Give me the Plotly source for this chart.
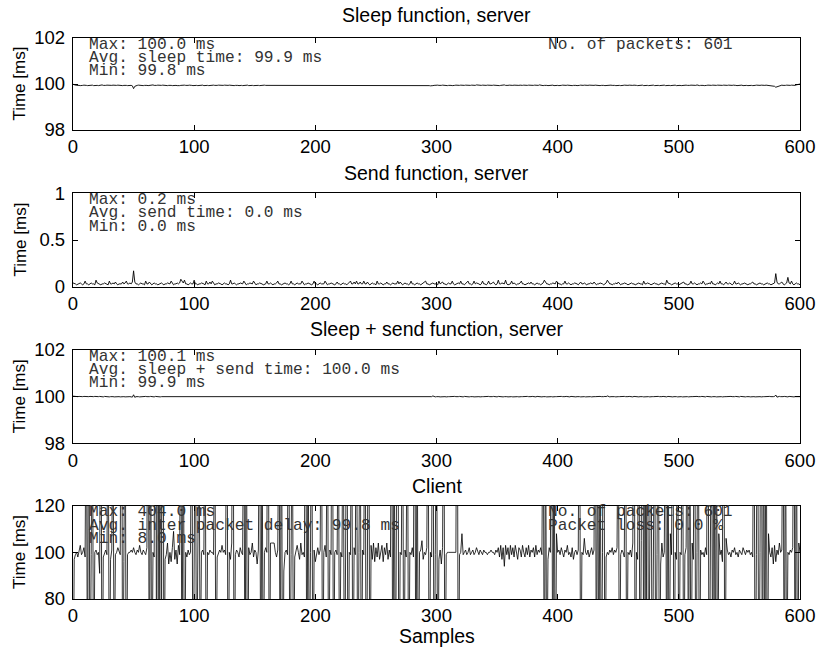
import plotly.graph_objects as go

# ---------------- data (601 samples each) ----------------
samples = list(range(601))

sleep_ms = [
    99.99, 99.96, 99.95, 99.94, 99.95, 99.94, 99.93, 99.95, 99.94, 99.95, 99.96, 99.94, 99.93, 99.94, 99.95, 99.94, 99.95, 99.93, 99.94, 99.95,
    99.94, 99.93, 99.95, 99.94, 99.96, 99.94, 99.93, 99.94, 99.95, 99.94, 99.93, 99.95, 99.94, 99.95, 99.94, 99.93, 99.94, 99.95, 99.94, 99.96,
    99.94, 99.93, 99.94, 99.95, 99.94, 99.93, 99.94, 99.95, 99.94, 99.92, 99.80, 99.90, 99.93, 99.94, 99.95, 99.94, 99.95, 99.94, 99.93, 99.94,
    99.95, 99.94, 99.93, 99.94, 99.95, 99.94, 99.96, 99.94, 99.93, 99.94, 99.95, 99.94, 99.93, 99.94, 99.95, 99.94, 99.94, 99.95, 99.93, 99.94,
    99.95, 99.94, 99.93, 99.94, 99.95, 99.94, 99.93, 99.92, 99.93, 99.94, 99.95, 99.94, 99.95, 99.94, 99.93, 99.94, 99.95, 99.96, 99.94, 99.93,
    99.94, 99.95, 99.94, 99.93, 99.94, 99.95, 99.94, 99.95, 99.93, 99.94, 99.95, 99.94, 99.93, 99.94, 99.96, 99.94, 99.95, 99.94, 99.93, 99.94,
    99.95, 99.94, 99.95, 99.93, 99.94, 99.95, 99.94, 99.93, 99.94, 99.95, 99.94, 99.96, 99.94, 99.93, 99.94, 99.95, 99.94, 99.93, 99.95, 99.94,
    99.93, 99.94, 99.95, 99.94, 99.95, 99.93, 99.94, 99.95, 99.94, 99.93, 99.94, 99.95, 99.96, 99.94, 99.93, 99.94, 99.95, 99.94, 99.95, 99.94,
    99.94, 99.93, 99.95, 99.94, 99.93, 99.94, 99.95, 99.94, 99.96, 99.95, 99.94, 99.93, 99.94, 99.95, 99.94, 99.93, 99.94, 99.95, 99.94, 99.95,
    99.93, 99.94, 99.95, 99.94, 99.93, 99.95, 99.94, 99.95, 99.94, 99.93, 99.94, 99.96, 99.94, 99.95, 99.93, 99.94, 99.95, 99.94, 99.93, 99.94,
    99.95, 99.94, 99.93, 99.94, 99.95, 99.94, 99.95, 99.93, 99.94, 99.95, 99.94, 99.93, 99.95, 99.94, 99.96, 99.94, 99.93, 99.94, 99.95, 99.94,
    99.94, 99.95, 99.93, 99.94, 99.95, 99.94, 99.93, 99.94, 99.95, 99.96, 99.94, 99.93, 99.94, 99.95, 99.94, 99.95, 99.93, 99.94, 99.95, 99.94,
    99.93, 99.94, 99.95, 99.94, 99.95, 99.93, 99.94, 99.95, 99.94, 99.93, 99.94, 99.95, 99.94, 99.96, 99.94, 99.93, 99.94, 99.95, 99.94, 99.93,
    99.94, 99.95, 99.94, 99.93, 99.95, 99.94, 99.95, 99.94, 99.93, 99.94, 99.95, 99.94, 99.93, 99.94, 99.95, 99.96, 99.94, 99.93, 99.94, 99.95,
    99.94, 99.93, 99.94, 99.95, 99.94, 99.95, 99.93, 99.94, 99.95, 99.94, 99.93, 99.94, 99.95, 99.94, 99.93, 99.92, 99.91, 99.93, 99.94, 99.95,
    99.94, 99.95, 99.94, 99.93, 99.94, 99.95, 99.94, 99.96, 99.94, 99.93, 99.94, 99.95, 99.94, 99.93, 99.95, 99.94, 99.95, 99.94, 99.93, 99.94,
    99.95, 99.94, 99.93, 99.94, 99.95, 99.94, 99.95, 99.93, 99.94, 99.95, 99.94, 99.93, 99.94, 99.96, 99.95, 99.94, 99.93, 99.94, 99.95, 99.94,
    99.93, 99.94, 99.95, 99.94, 99.95, 99.93, 99.94, 99.95, 99.94, 99.93, 99.95, 99.94, 99.93, 99.94, 99.95, 99.94, 99.96, 99.94, 99.93, 99.94,
    99.95, 99.94, 99.93, 99.94, 99.95, 99.94, 99.93, 99.95, 99.94, 99.95, 99.93, 99.94, 99.95, 99.94, 99.93, 99.94, 99.95, 99.94, 99.95, 99.93,
    99.94, 99.95, 99.94, 99.93, 99.94, 99.96, 99.94, 99.95, 99.93, 99.94, 99.95, 99.94, 99.93, 99.94, 99.95, 99.94, 99.95, 99.93, 99.94, 99.95,
    99.94, 99.93, 99.95, 99.94, 99.95, 99.94, 99.93, 99.94, 99.95, 99.94, 99.96, 99.94, 99.93, 99.94, 99.95, 99.94, 99.93, 99.95, 99.94, 99.95,
    99.93, 99.94, 99.95, 99.94, 99.93, 99.94, 99.95, 99.94, 99.95, 99.93, 99.94, 99.95, 99.94, 99.96, 99.94, 99.93, 99.94, 99.95, 99.94, 99.93,
    99.94, 99.95, 99.93, 99.94, 99.95, 99.94, 99.95, 99.94, 99.93, 99.94, 99.95, 99.94, 99.93, 99.95, 99.94, 99.95, 99.94, 99.93, 99.94, 99.95,
    99.94, 99.93, 99.94, 99.95, 99.96, 99.94, 99.93, 99.94, 99.95, 99.94, 99.95, 99.93, 99.94, 99.95, 99.94, 99.93, 99.94, 99.95, 99.94, 99.95,
    99.93, 99.94, 99.95, 99.94, 99.93, 99.94, 99.95, 99.94, 99.95, 99.93, 99.94, 99.96, 99.94, 99.93, 99.94, 99.95, 99.94, 99.95, 99.93, 99.94,
    99.95, 99.94, 99.93, 99.94, 99.95, 99.94, 99.95, 99.94, 99.93, 99.94, 99.95, 99.94, 99.93, 99.95, 99.94, 99.96, 99.94, 99.93, 99.94, 99.95,
    99.94, 99.93, 99.95, 99.94, 99.95, 99.94, 99.93, 99.94, 99.95, 99.94, 99.93, 99.94, 99.95, 99.94, 99.95, 99.93, 99.94, 99.95, 99.94, 99.93,
    99.94, 99.95, 99.94, 99.93, 99.94, 99.95, 99.96, 99.94, 99.93, 99.94, 99.95, 99.94, 99.95, 99.93, 99.94, 99.95, 99.94, 99.93, 99.94, 99.95,
    99.94, 99.93, 99.95, 99.94, 99.95, 99.94, 99.93, 99.94, 99.95, 99.94, 99.93, 99.94, 99.95, 99.94, 99.95, 99.93, 99.94, 99.93, 99.92, 99.90,
    99.86, 99.88, 99.91, 99.93, 99.94, 99.95, 99.94, 99.93, 99.94, 99.95, 99.94, 99.93, 99.94, 99.95, 99.94, 99.95, 99.94, 99.96, 99.97, 99.98,
    100.00,
]

send_ms = [
    0.04, 0.03, 0.03, 0.02, 0.03, 0.03, 0.04, 0.03, 0.02, 0.03, 0.06, 0.03, 0.03, 0.02, 0.03, 0.04, 0.03, 0.03, 0.02, 0.07,
    0.04, 0.03, 0.03, 0.02, 0.03, 0.03, 0.04, 0.03, 0.03, 0.02, 0.06, 0.03, 0.03, 0.04, 0.03, 0.05, 0.03, 0.02, 0.03, 0.03,
    0.03, 0.05, 0.03, 0.04, 0.06, 0.03, 0.03, 0.04, 0.03, 0.05, 0.17, 0.05, 0.03, 0.03, 0.02, 0.03, 0.04, 0.03, 0.03, 0.02,
    0.06, 0.03, 0.03, 0.05, 0.03, 0.02, 0.03, 0.04, 0.03, 0.03, 0.02, 0.03, 0.03, 0.04, 0.03, 0.02, 0.03, 0.03, 0.04, 0.03,
    0.03, 0.06, 0.03, 0.02, 0.03, 0.03, 0.04, 0.03, 0.04, 0.08, 0.06, 0.04, 0.07, 0.03, 0.03, 0.02, 0.03, 0.04, 0.03, 0.03,
    0.07, 0.03, 0.03, 0.02, 0.03, 0.03, 0.04, 0.03, 0.03, 0.02, 0.06, 0.03, 0.03, 0.05, 0.03, 0.06, 0.03, 0.02, 0.03, 0.03,
    0.04, 0.03, 0.03, 0.02, 0.03, 0.04, 0.03, 0.03, 0.02, 0.03, 0.07, 0.03, 0.03, 0.04, 0.03, 0.02, 0.03, 0.03, 0.04, 0.03,
    0.03, 0.06, 0.03, 0.02, 0.03, 0.03, 0.04, 0.03, 0.03, 0.06, 0.03, 0.02, 0.03, 0.03, 0.04, 0.03, 0.03, 0.02, 0.03, 0.03,
    0.06, 0.03, 0.03, 0.04, 0.03, 0.02, 0.03, 0.03, 0.04, 0.06, 0.03, 0.03, 0.02, 0.03, 0.03, 0.04, 0.03, 0.03, 0.02, 0.03,
    0.06, 0.03, 0.03, 0.02, 0.03, 0.04, 0.03, 0.03, 0.03, 0.06, 0.03, 0.02, 0.03, 0.03, 0.04, 0.03, 0.03, 0.02, 0.03, 0.06,
    0.03, 0.03, 0.02, 0.03, 0.04, 0.03, 0.03, 0.03, 0.06, 0.03, 0.02, 0.03, 0.03, 0.04, 0.03, 0.03, 0.02, 0.03, 0.05, 0.03,
    0.03, 0.02, 0.03, 0.04, 0.03, 0.03, 0.02, 0.03, 0.04, 0.06, 0.03, 0.03, 0.05, 0.03, 0.06, 0.03, 0.03, 0.05, 0.03, 0.03,
    0.06, 0.03, 0.03, 0.05, 0.03, 0.02, 0.03, 0.04, 0.03, 0.03, 0.02, 0.06, 0.03, 0.03, 0.04, 0.03, 0.02, 0.03, 0.03, 0.05,
    0.03, 0.03, 0.02, 0.03, 0.04, 0.03, 0.03, 0.03, 0.06, 0.03, 0.05, 0.03, 0.02, 0.03, 0.04, 0.03, 0.03, 0.02, 0.03, 0.06,
    0.03, 0.03, 0.02, 0.03, 0.04, 0.03, 0.03, 0.02, 0.03, 0.03, 0.04, 0.06, 0.03, 0.03, 0.02, 0.03, 0.03, 0.04, 0.03, 0.03,
    0.03, 0.02, 0.06, 0.03, 0.04, 0.05, 0.03, 0.03, 0.02, 0.03, 0.04, 0.03, 0.03, 0.06, 0.03, 0.02, 0.03, 0.03, 0.04, 0.03,
    0.06, 0.03, 0.03, 0.02, 0.03, 0.04, 0.06, 0.03, 0.03, 0.02, 0.03, 0.06, 0.03, 0.04, 0.03, 0.03, 0.02, 0.03, 0.06, 0.03,
    0.03, 0.02, 0.03, 0.06, 0.03, 0.03, 0.04, 0.05, 0.03, 0.02, 0.03, 0.07, 0.03, 0.03, 0.04, 0.03, 0.03, 0.07, 0.03, 0.02,
    0.03, 0.03, 0.06, 0.03, 0.04, 0.03, 0.02, 0.03, 0.03, 0.04, 0.06, 0.03, 0.03, 0.02, 0.03, 0.03, 0.04, 0.03, 0.05, 0.03,
    0.03, 0.02, 0.03, 0.04, 0.03, 0.03, 0.02, 0.03, 0.04, 0.07, 0.04, 0.03, 0.03, 0.02, 0.03, 0.03, 0.04, 0.03, 0.03, 0.06,
    0.04, 0.03, 0.03, 0.02, 0.03, 0.03, 0.06, 0.03, 0.03, 0.04, 0.03, 0.02, 0.03, 0.03, 0.04, 0.03, 0.03, 0.02, 0.03, 0.05,
    0.03, 0.03, 0.04, 0.03, 0.02, 0.03, 0.03, 0.04, 0.03, 0.03, 0.05, 0.03, 0.02, 0.03, 0.03, 0.04, 0.03, 0.03, 0.02, 0.03,
    0.04, 0.07, 0.04, 0.03, 0.03, 0.02, 0.03, 0.03, 0.04, 0.03, 0.05, 0.03, 0.02, 0.03, 0.03, 0.04, 0.03, 0.03, 0.02, 0.03,
    0.03, 0.04, 0.03, 0.03, 0.02, 0.03, 0.03, 0.04, 0.03, 0.03, 0.02, 0.06, 0.03, 0.03, 0.04, 0.03, 0.03, 0.02, 0.03, 0.03,
    0.04, 0.03, 0.03, 0.02, 0.03, 0.03, 0.04, 0.03, 0.03, 0.02, 0.07, 0.04, 0.03, 0.03, 0.02, 0.03, 0.03, 0.04, 0.03, 0.03,
    0.02, 0.03, 0.03, 0.04, 0.05, 0.03, 0.03, 0.02, 0.03, 0.03, 0.06, 0.03, 0.03, 0.04, 0.03, 0.02, 0.03, 0.03, 0.04, 0.03,
    0.06, 0.03, 0.02, 0.03, 0.03, 0.04, 0.03, 0.06, 0.03, 0.03, 0.02, 0.03, 0.04, 0.03, 0.06, 0.03, 0.03, 0.02, 0.03, 0.05,
    0.03, 0.03, 0.04, 0.03, 0.02, 0.03, 0.06, 0.03, 0.03, 0.04, 0.03, 0.02, 0.03, 0.03, 0.04, 0.03, 0.03, 0.02, 0.03, 0.03,
    0.04, 0.05, 0.03, 0.03, 0.02, 0.03, 0.03, 0.04, 0.03, 0.03, 0.02, 0.03, 0.03, 0.04, 0.03, 0.03, 0.02, 0.03, 0.03, 0.04,
    0.14, 0.05, 0.03, 0.03, 0.04, 0.05, 0.03, 0.02, 0.03, 0.04, 0.10, 0.04, 0.03, 0.06, 0.03, 0.02, 0.03, 0.04, 0.03, 0.03,
    0.02,
]

sleep_send_ms = [
    100.02, 100.01, 100.00, 99.99, 100.00, 100.01, 100.00, 99.99, 100.00, 100.01, 100.00, 100.01, 99.99, 100.00, 100.01, 100.00, 99.99, 100.00, 100.01, 100.00,
    99.99, 100.00, 100.01, 100.00, 100.00, 99.99, 100.01, 100.00, 100.00, 100.01, 99.99, 100.00, 100.01, 100.00, 99.99, 100.00, 100.00, 100.01, 100.00, 99.99,
    100.00, 100.01, 100.00, 99.99, 100.00, 100.01, 100.00, 100.00, 99.99, 99.98, 100.08, 99.97, 100.00, 100.01, 100.00, 99.99, 100.00, 100.01, 100.00, 100.00,
    100.01, 100.00, 99.99, 100.00, 100.01, 100.00, 100.00, 99.99, 100.01, 100.00, 100.00, 100.01, 99.99, 100.00, 100.00, 100.01, 100.00, 99.99, 100.00, 100.01,
    100.00, 99.99, 100.00, 100.01, 100.00, 100.00, 99.99, 100.01, 100.00, 100.01, 100.02, 100.00, 99.99, 100.00, 100.01, 100.00, 99.99, 100.00, 100.01, 100.00,
    100.01, 100.00, 99.99, 100.00, 100.01, 100.00, 100.00, 100.01, 99.99, 100.00, 100.01, 100.00, 99.99, 100.00, 100.01, 100.00, 100.00, 99.99, 100.01, 100.00,
    99.99, 100.00, 100.01, 100.00, 99.99, 100.00, 100.01, 100.00, 100.00, 99.99, 100.01, 100.00, 100.00, 100.01, 99.99, 100.00, 100.01, 100.00, 99.99, 100.00,
    100.00, 100.01, 100.00, 99.99, 100.00, 100.01, 100.00, 99.99, 100.01, 100.00, 100.00, 99.99, 100.01, 100.00, 100.00, 100.01, 99.99, 100.00, 100.01, 100.00,
    100.01, 100.00, 99.99, 100.00, 100.01, 100.00, 100.00, 99.99, 100.00, 100.01, 100.00, 100.01, 99.99, 100.00, 100.00, 100.01, 100.00, 99.99, 100.00, 100.01,
    100.00, 99.99, 100.01, 100.00, 100.00, 100.01, 99.99, 100.00, 100.01, 100.00, 99.99, 100.00, 100.01, 100.00, 100.00, 99.99, 100.01, 100.00, 100.00, 100.01,
    99.99, 100.00, 100.01, 100.00, 99.99, 100.00, 100.01, 100.00, 100.00, 100.01, 99.99, 100.00, 100.00, 100.01, 100.00, 99.99, 100.00, 100.01, 100.00, 100.00,
    100.01, 100.00, 99.99, 100.00, 100.01, 100.00, 99.99, 100.00, 100.01, 100.00, 100.00, 100.01, 99.99, 100.00, 100.01, 100.00, 99.99, 100.00, 100.01, 100.00,
    100.00, 99.99, 100.01, 100.00, 100.00, 100.01, 99.99, 100.00, 100.01, 100.00, 99.99, 100.00, 100.01, 100.00, 100.00, 99.99, 100.01, 100.00, 99.99, 100.01,
    100.00, 100.00, 99.99, 100.01, 100.00, 100.00, 100.01, 99.99, 100.00, 100.01, 100.00, 99.99, 100.00, 100.01, 100.00, 100.00, 99.99, 100.01, 100.00, 100.00,
    100.01, 99.99, 100.00, 100.01, 100.00, 99.99, 100.00, 100.01, 100.00, 100.00, 99.99, 100.01, 100.00, 100.00, 100.01, 99.99, 100.00, 100.03, 100.00, 99.99,
    100.00, 100.01, 100.00, 99.99, 100.00, 100.01, 100.00, 100.00, 99.99, 100.01, 100.00, 100.00, 100.01, 99.99, 100.00, 100.01, 100.00, 99.99, 100.00, 100.01,
    100.00, 100.00, 99.99, 100.01, 100.00, 100.00, 100.01, 99.99, 100.00, 100.01, 100.00, 99.99, 100.00, 100.01, 100.00, 100.00, 99.99, 100.01, 100.00, 100.00,
    100.01, 99.99, 100.00, 100.01, 100.00, 99.99, 100.00, 100.01, 100.00, 100.00, 99.99, 100.01, 100.00, 100.00, 100.01, 99.99, 100.00, 100.01, 100.00, 99.99,
    100.00, 100.01, 100.00, 99.99, 100.00, 100.01, 100.00, 100.00, 99.99, 100.01, 100.00, 100.00, 100.01, 99.99, 100.00, 100.01, 100.00, 99.99, 100.00, 100.01,
    100.00, 100.00, 99.99, 100.01, 100.00, 100.00, 100.01, 99.99, 100.00, 100.01, 100.00, 99.99, 100.00, 100.01, 100.00, 100.00, 99.99, 100.01, 100.00, 100.00,
    100.01, 99.99, 100.00, 100.01, 100.00, 99.99, 100.00, 100.01, 100.00, 100.00, 99.99, 100.01, 100.00, 100.00, 100.01, 99.99, 100.00, 100.01, 100.00, 99.99,
    100.00, 100.01, 100.00, 99.99, 100.00, 100.01, 100.00, 100.00, 99.99, 100.01, 100.00, 100.00, 100.01, 99.99, 100.00, 100.01, 100.00, 99.99, 100.00, 100.01,
    100.00, 100.03, 100.00, 99.99, 100.00, 100.01, 100.00, 100.00, 99.99, 100.01, 100.00, 100.00, 100.01, 99.99, 100.00, 100.01, 100.00, 99.99, 100.00, 100.01,
    100.00, 100.00, 99.99, 100.01, 100.00, 100.00, 100.01, 99.99, 100.00, 100.01, 100.00, 99.99, 100.00, 100.01, 100.00, 100.00, 99.99, 100.01, 100.00, 100.00,
    100.01, 99.99, 100.00, 100.01, 100.00, 99.99, 100.00, 100.01, 100.00, 100.00, 99.99, 100.01, 100.00, 100.00, 100.01, 99.99, 100.00, 100.01, 100.00, 99.99,
    100.00, 100.01, 100.00, 99.99, 100.00, 100.01, 100.00, 100.00, 99.99, 100.01, 100.00, 100.00, 100.01, 99.99, 100.00, 100.01, 100.00, 99.99, 100.00, 100.01,
    100.00, 100.00, 99.99, 100.01, 100.00, 100.00, 100.01, 99.99, 100.00, 100.01, 100.00, 99.99, 100.00, 100.01, 100.00, 100.00, 99.99, 100.01, 100.00, 100.00,
    100.01, 99.99, 100.00, 100.01, 100.00, 99.99, 100.00, 100.01, 100.00, 100.00, 99.99, 100.01, 100.00, 100.00, 100.01, 99.99, 100.00, 100.01, 100.00, 99.99,
    100.00, 100.01, 100.00, 99.99, 100.00, 100.01, 100.00, 100.00, 99.99, 100.01, 100.00, 100.00, 100.01, 99.99, 100.00, 100.01, 100.00, 99.99, 100.00, 100.01,
    100.07, 99.98, 100.00, 100.01, 100.00, 99.99, 100.00, 100.01, 100.00, 100.00, 99.99, 100.01, 100.00, 100.00, 100.01, 99.99, 100.00, 100.01, 100.00, 100.00,
    100.00,
]

client_delay_ms = [
    20, 97, 99, 100, 98, 101, 103, 99, 100, 102, 98, 190, 12, 230, 15, 99, 180, 22, 100, 101,
    99, 100, 91, 210, 10, 98, 100, 101, 99, 175, 25, 97, 101, 160, 38, 99, 100, 102, 100, 99,
    250, 9, 96, 190, 14, 99, 100, 100, 101, 100, 102, 100, 99, 101, 100, 103, 100, 99, 101, 100,
    99, 102, 220, 11, 185, 18, 100, 98, 300, 9, 260, 10, 240, 12, 404, 8, 97, 99, 104, 95,
    100, 96, 102, 109, 97, 101, 95, 103, 99, 170, 30, 195, 11, 100, 98, 101, 99, 100, 205, 13,
    99, 180, 21, 98, 160, 40, 100, 101, 99, 190, 12, 100, 99, 101, 100, 100, 99, 175, 27, 98,
    100, 101, 100, 103, 100, 101, 99, 210, 14, 100, 97, 104, 230, 10, 99, 101, 100, 98, 102, 100,
    99, 185, 17, 200, 11, 102, 99, 100, 104, 98, 101, 100, 95, 101, 190, 15, 170, 26, 100, 102,
    100, 240, 10, 104, 104, 104, 104, 100, 98, 101, 180, 20, 195, 12, 92, 100, 101, 99, 210, 14,
    99, 175, 25, 98, 101, 103, 100, 97, 104, 99, 100, 98, 220, 12, 170, 31, 100, 190, 13, 101,
    96, 100, 102, 99, 101, 200, 12, 100, 103, 98, 185, 18, 101, 99, 230, 10, 100, 101, 99, 175,
    25, 100, 98, 190, 14, 101, 210, 12, 100, 99, 180, 19, 102, 99, 195, 12, 100, 175, 24, 101,
    99, 200, 14, 98, 220, 11, 103, 97, 104, 96, 102, 98, 104, 97, 101, 103, 96, 102, 99, 104,
    97, 101, 98, 190, 13, 180, 19, 107, 230, 10, 100, 99, 200, 13, 101, 98, 185, 17, 100, 99,
    102, 98, 210, 12, 175, 23, 100, 101, 105, 97, 100, 99, 102, 195, 12, 100, 98, 220, 11, 99,
    180, 20, 97, 101, 95, 102, 200, 13, 99, 100, 100, 100, 100, 100, 100, 100, 100, 230, 10, 99,
    100, 108, 99, 100, 101, 99, 100, 102, 99, 100, 101, 99, 100, 102, 100, 99, 101, 100, 99, 101,
    100, 100, 99, 100, 100, 101, 100, 100, 99, 101, 100, 102, 98, 103, 97, 102, 94, 103, 99, 102,
    97, 103, 99, 102, 98, 103, 100, 97, 102, 101, 98, 103, 100, 98, 102, 99, 103, 98, 101, 100,
    102, 98, 103, 99, 101, 100, 102, 99, 190, 13, 170, 28, 97, 102, 100, 200, 12, 185, 16, 108,
    100, 101, 99, 102, 100, 98, 101, 100, 103, 99, 100, 98, 102, 97, 100, 101, 99, 101, 210, 12,
    100, 99, 106, 100, 99, 101, 98, 100, 102, 99, 101, 220, 11, 190, 14, 175, 25, 100, 230, 10,
    98, 100, 99, 101, 100, 102, 99, 101, 100, 102, 185, 17, 99, 101, 100, 98, 200, 14, 100, 99,
    101, 98, 104, 240, 10, 100, 97, 190, 13, 105, 300, 9, 220, 12, 260, 10, 98, 195, 14, 101,
    180, 20, 99, 200, 13, 95, 104, 98, 100, 190, 14, 175, 26, 108, 99, 210, 12, 100, 97, 185,
    17, 100, 99, 200, 12, 99, 102, 180, 19, 195, 13, 104, 97, 210, 11, 100, 190, 14, 101, 99,
    100, 98, 102, 99, 220, 11, 100, 185, 16, 200, 13, 175, 24, 108, 99, 101, 96, 230, 10, 106,
    101, 99, 100, 98, 101, 100, 102, 99, 100, 98, 101, 100, 99, 102, 100, 99, 101, 100, 101, 99,
    100, 98, 210, 12, 99, 195, 14, 100, 240, 10, 180, 21, 200, 13, 108, 100, 98, 102, 95, 103,
    96, 101, 99, 104, 100, 101, 190, 14, 175, 25, 100, 99, 101, 100, 102, 200, 12, 185, 17, 104,
    100,
]

panel_titles = ["Sleep function, server", "Send function, server",
                "Sleep + send function, server", "Client"]
y_ranges = [[98, 102], [0, 1], [98, 102], [80, 120]]
y_ticks = [[98, 100, 102], [0, 0.5, 1], [98, 100, 102], [80, 100, 120]]
y_ticktext = [["98", "100", "102"], ["0", "0.5", "1"], ["98", "100", "102"], ["80", "100", "120"]]
x_ticks = [0, 100, 200, 300, 400, 500, 600]

stats_left = [
    ["Max: 100.0 ms", "Avg. sleep time: 99.9 ms", "Min: 99.8 ms"],
    ["Max: 0.2 ms", "Avg. send time: 0.0 ms", "Min: 0.0 ms"],
    ["Max: 100.1 ms", "Avg. sleep + send time: 100.0 ms", "Min: 99.9 ms"],
    ["Max: 404.0 ms", "Avg. inter packet delay: 99.8 ms", "Min: 8.0 ms"],
]
stats_right = [["No. of packets: 601"], [], [], ["No. of packets: 601", "Packet loss: 0.0 %"]]

series = [sleep_ms, send_ms, sleep_send_ms, client_delay_ms]
for s in series:
    assert len(s) == 601, len(s)

# ---------------- layout geometry ----------------
W, H = 827, 651
ML, MR, MT, MB = 73, 19, 38, 52
PH = H - MT - MB
panel_px = [(38, 130), (193.3, 286.7), (350, 443.3), (505.7, 599)]
title_px = [15, 173, 328.5, 486]

def py(ypx):
    return (H - MB - ypx) / PH

fig = go.Figure()
axis_font = dict(family="Liberation Sans, Arial, Helvetica, sans-serif", size=18.5, color="black")
text_font = dict(family="Liberation Sans, Arial, Helvetica, sans-serif", size=19.5, color="black")
mono_font = dict(family="Liberation Mono, Courier New, monospace", size=16.2, color="#333333")

layout = dict(
    width=W, height=H,
    margin=dict(l=ML, r=MR, t=MT, b=MB),
    paper_bgcolor="white", plot_bgcolor="white",
    showlegend=False,
)
annotations = []
for i in range(4):
    n = "" if i == 0 else str(i + 1)
    xa, ya = "x" + n, "y" + n
    fig.add_trace(go.Scatter(x=samples, y=series[i], mode="lines",
                             line=dict(color="black", width=0.9 if i < 3 else 0.8),
                             xaxis=xa, yaxis=ya, hoverinfo="skip"))
    top, bot = panel_px[i]
    common = dict(showline=True, linecolor="black", linewidth=1.3, mirror="ticks",
                  ticks="inside", ticklen=5, tickwidth=1, tickcolor="black",
                  showgrid=False, zeroline=False, tickfont=axis_font)
    layout["xaxis" + n] = dict(common, domain=[0, 1], range=[0, 600], tickvals=x_ticks,
                               anchor=ya, ticklabelstandoff=0)
    layout["yaxis" + n] = dict(common, domain=[py(bot), py(top)], range=y_ranges[i],
                               tickvals=y_ticks[i], ticktext=y_ticktext[i], anchor=xa,
                               ticklabelstandoff=3)
    annotations.append(dict(text=panel_titles[i], xref="paper", x=0.5, yref="paper",
                            y=py(title_px[i]), xanchor="center", yanchor="middle",
                            showarrow=False, font=text_font))
    annotations.append(dict(text="Time [ms]", xref="paper", x=(19 - ML) / (W - ML - MR),
                            yref=ya + " domain", y=0.5, xanchor="center", yanchor="middle",
                            textangle=-90, showarrow=False, font=dict(text_font, size=17)))
    hgt = bot - top
    offs = [6.6, 20, 33.4]
    for j, t in enumerate(stats_left[i]):
        annotations.append(dict(text=t, xref=xa + " domain", x=(87 - ML) / (W - ML - MR),
                                yref=ya + " domain", y=1 - offs[j] / hgt,
                                xanchor="left", yanchor="middle", showarrow=False,
                                font=mono_font))
    for j, t in enumerate(stats_right[i]):
        annotations.append(dict(text=t, xref=xa + " domain", x=(551.7 - ML) / (W - ML - MR),
                                yref=ya + " domain", y=1 - offs[j] / hgt,
                                xanchor="left", yanchor="middle", showarrow=False,
                                font=mono_font))

annotations.append(dict(text="Samples", xref="paper", x=0.5, yref="paper", y=py(636),
                        xanchor="center", yanchor="middle", showarrow=False, font=text_font))
layout["annotations"] = annotations
fig.update_layout(**layout)
fig.write_html("out.html")
